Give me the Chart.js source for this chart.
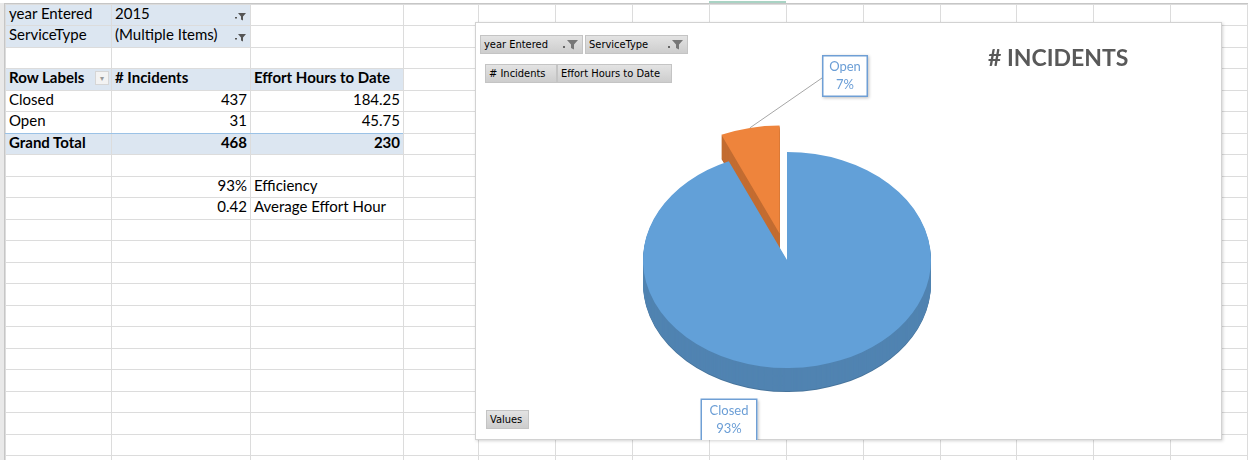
<!DOCTYPE html>
<html lang="en">
  <head>
    <meta charset="UTF-8" />
    <title># Incidents - Pivot</title>
    <script src="https://cdn.jsdelivr.net/npm/chart.js"></script>
    <style>
      html, body {
        margin: 0;
        padding: 0;
        background: #fff;
      }
      body {
        position: relative;
        width: 1248px;
        height: 460px;
        overflow: hidden;
        font-family: Lato, "Open Sans", sans-serif;
        font-size: 15px;
        color: #000;
      }
      .vline { position: absolute; top: 3px; height: 457px; width: 1px; background: #dcdcdc; }
      .hline { position: absolute; left: 5px; width: 1243px; height: 1px; background: #dcdcdc; }
      .fill { position: absolute; background: #dce6f1; }
      .cell {
        position: absolute;
        height: 21px;
        line-height: 21px;
        padding: 0 3px 0 4px;
        box-sizing: border-box;
        white-space: nowrap;
      }
      .cell.num { text-align: right; }
      .cell.b { font-weight: 700; }
      .chartbox {
        position: absolute;
        left: 475px;
        top: 22px;
        width: 747px;
        height: 418px;
        background: #fff;
        border: 1px solid #d2d2d2;
        box-sizing: border-box;
        box-shadow: 1px 1px 3px rgba(0, 0, 0, 0.18);
      }
      #pie { position: absolute; left: 475px; top: 22px; }
      .pbtn {
        position: absolute;
        height: 19px;
        line-height: 18px;
        padding: 0 3px;
        box-sizing: border-box;
        background: linear-gradient(#e3e3e3, #cdcdcd);
        border: 1px solid #c4c4c4;
        font-family: "DejaVu Sans Condensed", "DejaVu Sans", sans-serif;
        font-stretch: condensed;
        font-size: 11px;
        color: #000;
        white-space: nowrap;
      }
      .pbtn svg { position: absolute; right: 3px; top: 4px; }
      .title {
        position: absolute;
        left: 988px;
        top: 43px;
        font-family: Lato, sans-serif;
        font-weight: 700;
        font-size: 23px;
        color: #595959;
        white-space: nowrap;
      }
    </style>
  </head>
  <body>
    <div id="sheet"></div>

    <div class="chartbox"></div>
    <canvas id="pie" width="747" height="418"></canvas>

    <div class="pbtn" style="left: 480px; top: 35px; width: 103px">year Entered<svg width="16" height="10" viewBox="0 0 16 10"><rect x="0" y="6" width="2" height="2" fill="#666"/><path d="M4 0h11l-4 4.5v5l-3-1.5v-3.5z" fill="#777"/></svg></div>
    <div class="pbtn" style="left: 585px; top: 35px; width: 103px">ServiceType<svg width="16" height="10" viewBox="0 0 16 10"><rect x="0" y="6" width="2" height="2" fill="#666"/><path d="M4 0h11l-4 4.5v5l-3-1.5v-3.5z" fill="#777"/></svg></div>
    <div class="pbtn" style="left: 485px; top: 64px; width: 72px"># Incidents</div>
    <div class="pbtn" style="left: 557px; top: 64px; width: 115px">Effort Hours to Date</div>
    <div class="pbtn" style="left: 486px; top: 410px; width: 43px">Values</div>

    <div class="title"># INCIDENTS</div>

    <script>
      // pivot data
      const statuses = ["Closed", "Open"];
      const incidents = [437, 31];
      const effortHours = [184.25, 45.75];
      const filterFields = ["year Entered", "ServiceType"];
      const filterValues = ["2015", "(Multiple Items)"];
      const valueHeaders = ["# Incidents", "Effort Hours to Date"];

      // sheet geometry
      const colX = [5, 111, 250, 403, 478, 555, 632, 709, 786, 863, 940, 1016, 1093, 1170, 1247];
      const ROW0 = 3.5, ROW_H = 21.5;
      const rowTop = (r) => Math.round(ROW0 + r * ROW_H);

      const sheet = document.getElementById("sheet");

      function add(cls, style, text) {
        const d = document.createElement("div");
        d.className = cls;
        Object.assign(d.style, style);
        if (text !== undefined) d.textContent = text;
        sheet.appendChild(d);
        return d;
      }

      // gridlines
      for (let r = 0; r <= 21; r++) add("hline", { top: rowTop(r) + "px" });
      colX.forEach((x) => add("vline", { left: x + "px" }));
      add("", { position: "absolute", left: "0", top: "0", width: "1248px", height: "3px", background: "#fff", borderBottom: "1px solid #c6c6c6" });
      add("", { position: "absolute", left: "0", top: "3px", width: "4px", height: "457px", background: "#e9e9e9", borderRight: "1px solid #c6c6c6" });
      add("", { position: "absolute", left: "709px", top: "1px", width: "77px", height: "2px", background: "#a9d3c4" });

      function fill(col, row, span) {
        for (let c = col; c < col + span; c++) {
          add("fill", {
            left: colX[c] + 1 + "px",
            top: rowTop(row) + 1 + "px",
            width: colX[c + 1] - colX[c] - 1 + "px",
            height: rowTop(row + 1) - rowTop(row) - 1 + "px",
          });
        }
      }

      function cell(col, row, text, opts = {}) {
        const cls = "cell" + (opts.bold ? " b" : "") + (opts.right ? " num" : "");
        return add(cls, {
          left: colX[col] + "px",
          width: colX[col + 1] - colX[col] + "px",
          top: rowTop(row) - 1 + "px",
        }, text);
      }

      const funnel = '<svg width="12" height="10" viewBox="0 0 12 10"><rect x="0" y="5" width="2" height="1.5" fill="#555"/><path d="M3 1h8l-3 3.5v4l-2-1v-3z" fill="#555"/></svg>';

      // report filters
      fill(0, 0, 2);
      fill(0, 1, 2);
      filterFields.forEach((f, i) => {
        cell(0, i, f);
        cell(1, i, filterValues[i]);
        add("", { position: "absolute", left: "235px", top: rowTop(i) + 3 + "px", width: "12px", height: "10px" }).innerHTML = funnel;
      });

      // pivot header
      fill(0, 3, 3);
      cell(0, 3, "Row Labels", { bold: true });
      add("", {
        position: "absolute", left: "95px", top: rowTop(3) + 3 + "px", width: "14px", height: "14px",
        background: "#f3f3f3", border: "1px solid #d6d6d6", boxSizing: "border-box",
        color: "#999", fontSize: "8px", lineHeight: "12px", textAlign: "center",
      }, "▾");
      cell(1, 3, valueHeaders[0], { bold: true });
      cell(2, 3, valueHeaders[1], { bold: true });

      // pivot rows
      statuses.forEach((s, i) => {
        cell(0, 4 + i, s);
        cell(1, 4 + i, String(incidents[i]), { right: true });
        cell(2, 4 + i, String(effortHours[i]), { right: true });
      });

      const totalIncidents = incidents.reduce((a, b) => a + b, 0);
      const totalHours = effortHours.reduce((a, b) => a + b, 0);
      const gtRow = 4 + statuses.length;
      fill(0, gtRow, 3);
      add("", { position: "absolute", left: "5px", top: rowTop(gtRow) + "px", width: "398px", height: "1px", background: "#9bc2e6" });
      cell(0, gtRow, "Grand Total", { bold: true });
      cell(1, gtRow, String(totalIncidents), { bold: true, right: true });
      cell(2, gtRow, String(totalHours), { bold: true, right: true });

      // derived measures
      cell(1, gtRow + 2, Math.round((incidents[0] / totalIncidents) * 100) + "%", { right: true });
      cell(2, gtRow + 2, "Efficiency");
      cell(1, gtRow + 3, (effortHours[0] / incidents[0]).toFixed(2), { right: true });
      cell(2, gtRow + 3, "Average Effort Hour");

      // 3d pie look
      const SQUASH = 0.75;
      const DEPTH = 24;
      const EXPLODE = [0, 36];
      const sliceColors = ["#62a0d8", "#ee843c"];
      const CALLOUT = [
        { dx: -58, dy: 160, w: 57, h: 43 },
        { dx: 58, dy: -184, w: 46, h: 42, leader: true },
      ];

      function place(ctx, arc, i, d) {
        const mid = (arc.startAngle + arc.endAngle) / 2;
        const e = EXPLODE[i];
        ctx.translate(0, d);
        ctx.translate(arc.x, arc.y);
        ctx.scale(1, SQUASH);
        ctx.translate(Math.cos(mid) * e - arc.x, Math.sin(mid) * e - arc.y);
      }

      const pie3d = {
        id: "pie3d",
        beforeDatasetDraw(chart, args) {
          const ctx = chart.ctx;
          const arcs = args.meta.data;
          for (let d = DEPTH; d > 0; d--) {
            arcs.forEach((arc, i) => {
              ctx.save();
              ctx.filter = "brightness(" + (d === DEPTH ? 0.72 : 0.82) + ")";
              place(ctx, arc, i, d);
              arc.draw(ctx);
              ctx.restore();
            });
          }
          arcs.forEach((arc, i) => {
            ctx.save();
            place(ctx, arc, i, 0);
            arc.draw(ctx);
            ctx.restore();
          });
          return false;
        },
      };

      const callouts = {
        id: "callouts",
        afterDraw(chart) {
          const ctx = chart.ctx;
          const arcs = chart.getDatasetMeta(0).data;
          const total = incidents.reduce((a, b) => a + b, 0);
          arcs.forEach((arc, i) => {
            const box = CALLOUT[i];
            const bx = arc.x + box.dx - box.w / 2;
            const by = arc.y + box.dy - box.h / 2;
            ctx.save();
            if (box.leader) {
              const mid = (arc.startAngle + arc.endAngle) / 2;
              const r = arc.outerRadius + EXPLODE[i];
              ctx.strokeStyle = "#a6a6a6";
              ctx.lineWidth = 1;
              ctx.beginPath();
              ctx.moveTo(bx, arc.y + box.dy + 2);
              ctx.lineTo(arc.x + Math.cos(mid) * r, arc.y + Math.sin(mid) * r * SQUASH);
              ctx.stroke();
            }
            ctx.shadowColor = "rgba(0,0,0,0.25)";
            ctx.shadowBlur = 3;
            ctx.shadowOffsetX = 1;
            ctx.shadowOffsetY = 1;
            ctx.fillStyle = "#fff";
            ctx.fillRect(bx, by, box.w, box.h);
            ctx.shadowColor = "transparent";
            ctx.strokeStyle = "#6f9fd5";
            ctx.lineWidth = 1.5;
            ctx.strokeRect(bx + 0.75, by + 0.75, box.w - 1.5, box.h - 1.5);
            ctx.fillStyle = "#6b9ed6";
            ctx.font = "13px Lato";
            ctx.textAlign = "center";
            ctx.textBaseline = "middle";
            ctx.fillText(statuses[i], bx + box.w / 2, by + box.h / 2 - 9);
            ctx.fillText(Math.round((incidents[i] / total) * 100) + "%", bx + box.w / 2, by + box.h / 2 + 9);
            ctx.restore();
          });
        },
      };

      new Chart(document.getElementById("pie"), {
        type: "pie",
        data: {
          labels: statuses,
          datasets: [{
            label: "# Incidents",
            data: incidents,
            backgroundColor: sliceColors,
            borderWidth: 0,
            radius: 144,
            clip: false,
          }],
        },
        options: {
          responsive: false,
          animation: false,
          events: [],
          layout: { padding: { top: 58, right: 123, left: 0, bottom: 0 } },
          plugins: {
            legend: { display: false },
            tooltip: { enabled: false },
          },
        },
        plugins: [pie3d, callouts],
      });
    </script>
  </body>
</html>
